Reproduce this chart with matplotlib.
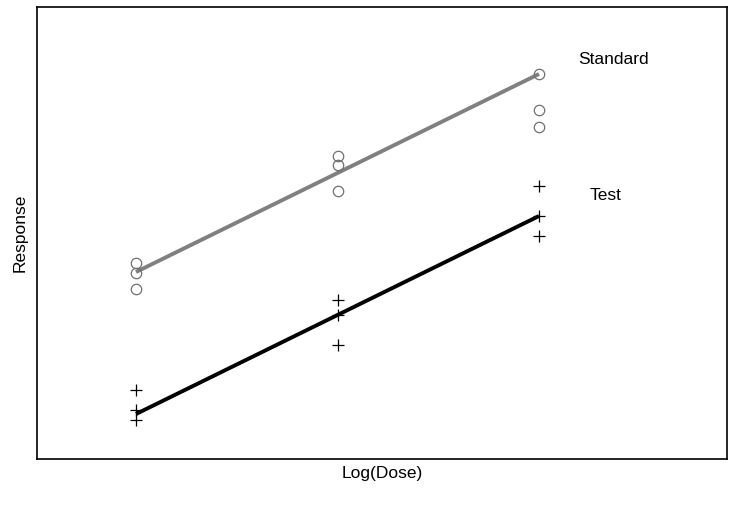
import matplotlib.pyplot as plt

plt.rcParams['font.family'] = ['Liberation Sans', 'DejaVu Sans']

# Log dose levels
log_dose = [0, 1, 2]

# Observed responses (three replicates per dose)
std_resp = [[196, 186, 170], [303, 294, 268], [385, 349, 332]]
test_resp = [[69, 49, 39], [159, 144, 114], [273, 243, 223]]

# Fitted parallel lines (values at lowest and highest dose)
line_dose = [0, 2]
std_fit = [187, 385]
test_fit = [45, 243]

fig = plt.figure(figsize=(7.31, 5.16), dpi=100)
ax = fig.add_axes([37 / 731, 1 - 459 / 516, 690 / 731, 452 / 516])

ax.plot(line_dose, std_fit, color='#808080', linewidth=2.8, solid_capstyle='butt', zorder=2)
ax.plot(line_dose, test_fit, color='black', linewidth=2.8, solid_capstyle='butt', zorder=2)

for xd, ys in zip(log_dose, std_resp):
    ax.plot([xd] * len(ys), ys, linestyle='none', marker='o', markersize=7.5,
            markerfacecolor='none', markeredgecolor='#707070', markeredgewidth=0.9, zorder=3)
for xd, ys in zip(log_dose, test_resp):
    ax.plot([xd] * len(ys), ys, linestyle='none', marker='+', markersize=9,
            color='black', markeredgewidth=0.9, zorder=3)

ax.text(2.37, 400, 'Standard', fontsize=12.5, ha='center', va='center')
ax.text(2.33, 263, 'Test', fontsize=12.5, ha='center', va='center')

ax.set_xlim((37 - 136) / 201.5, (727 - 136) / 201.5)
ax.set_ylim(0, 452)
ax.set_xticks([])
ax.set_yticks([])
for s in ax.spines.values():
    s.set_linewidth(1.2)

ax.set_xlabel('Log(Dose)', fontsize=12.5, labelpad=5)
ax.set_ylabel('Response', fontsize=12.5, labelpad=7)

fig.savefig('out.png', dpi=100)
